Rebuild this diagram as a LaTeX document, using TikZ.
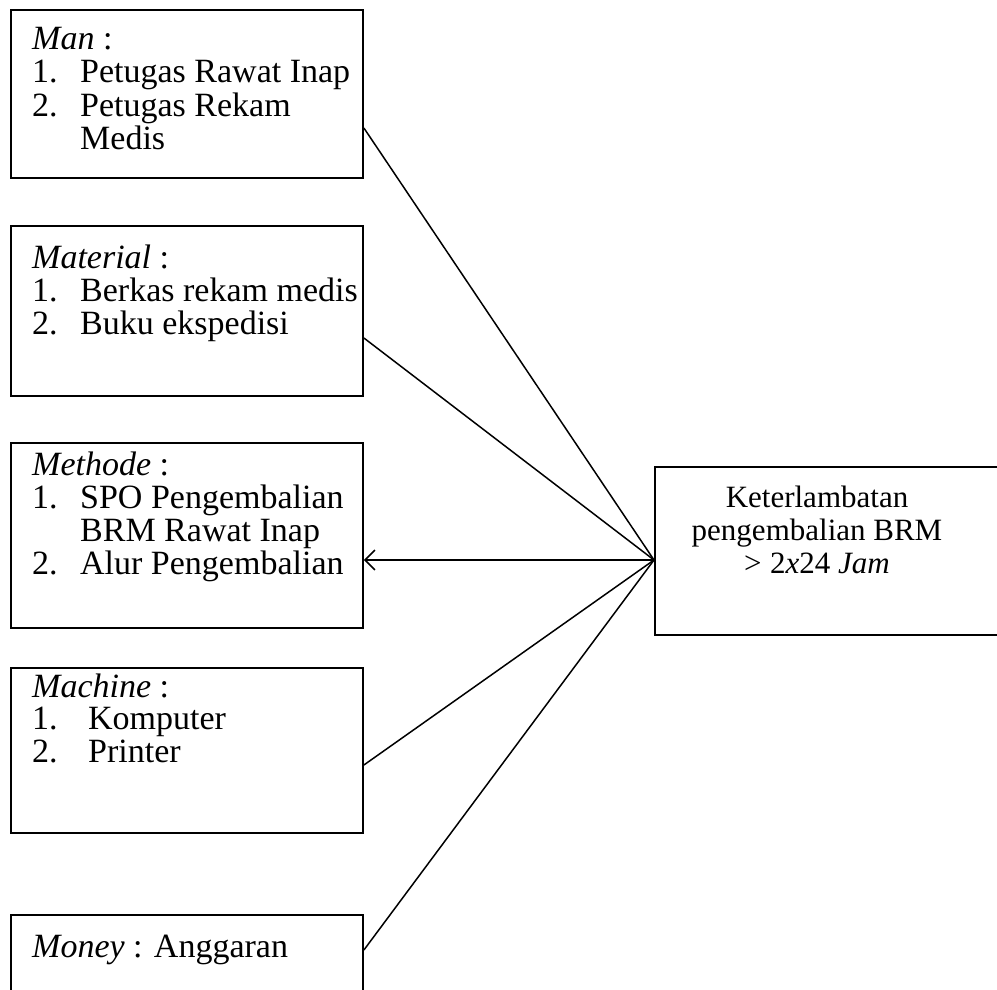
\documentclass[tikz,border=0pt]{standalone}
\usepackage{fontspec}
\setmainfont{Liberation Serif}
\usetikzlibrary{arrows.meta}
\begin{document}
\begin{tikzpicture}[x=1pt,y=-1pt,
  box/.style={draw, line width=1.9pt, anchor=north west, minimum width=352pt, inner sep=0pt},
  txt/.style={anchor=base west, inner sep=0pt, font=\fontsize{34}{32.8}\selectfont},
  rtxt/.style={anchor=base, inner sep=0pt, font=\fontsize{31}{33}\selectfont},
  link/.style={line width=1.5pt}]
\useasboundingbox (0,0) rectangle (997,990);
% boxes
\node[box, minimum height=168pt] (man)  at (10,9)   {};
\node[box, minimum height=170pt] (mat)  at (10,225) {};
\node[box, minimum height=185pt] (meth) at (10,442) {};
\node[box, minimum height=165pt] (mach) at (10,667) {};
\node[box, minimum height=100pt] (mon)  at (10,914) {};
\node[box, minimum width=351pt, minimum height=168pt] (res) at (654,466) {};
% texts
\node[txt] (tman) at (32,50) {\begin{tabular}[t]{@{}p{48pt}@{}l@{}}
\multicolumn{2}{@{}l@{}}{\textit{Man} :}\\
1. & Petugas Rawat Inap\\
2. & Petugas Rekam\\
   & Medis
\end{tabular}};
\node[txt] (tmat) at (32,268) {\begin{tabular}[t]{@{}p{48pt}@{}l@{}}
\multicolumn{2}{@{}l@{}}{\textit{Material} :}\\
1. & Berkas rekam medis\\
2. & Buku ekspedisi
\end{tabular}};
\node[txt] (tmeth) at (32,475) {\begin{tabular}[t]{@{}p{48pt}@{}l@{}}
\multicolumn{2}{@{}l@{}}{\textit{Methode} :}\\
1. & SPO Pengembalian\\
   & BRM Rawat Inap\\
2. & Alur Pengembalian
\end{tabular}};
\node[txt] (tmach) at (32,697) {\begin{tabular}[t]{@{}p{56pt}@{}l@{}}
\multicolumn{2}{@{}l@{}}{\textit{Machine} :}\\
1. & Komputer\\
2. & Printer
\end{tabular}};
\node[txt] (tmon) at (32,957) {\textit{Money} : Anggaran};
\node[rtxt] (tres) at (817,507) {\begin{tabular}[t]{@{}c@{}}
Keterlambatan\\
pengembalian BRM\\
{>}\;2\textit{x}24 \textit{Jam}
\end{tabular}};
% connectors
\path (0,128) coordinate (y1) (0,338) coordinate (y2) (0,560) coordinate (y3)
      (0,765) coordinate (y4) (0,950) coordinate (y5);
\coordinate (hub) at (res.west |- y3);
\draw[link] (hub) -- (man.east |- y1);
\draw[link] (hub) -- (mat.east |- y2);
\draw[link, -{Straight Barb[length=10pt,width=20pt]}] (hub) -- (meth.east |- y3);
\draw[link] (hub) -- (mach.east |- y4);
\draw[link] (hub) -- (mon.east |- y5);
\end{tikzpicture}
\end{document}
